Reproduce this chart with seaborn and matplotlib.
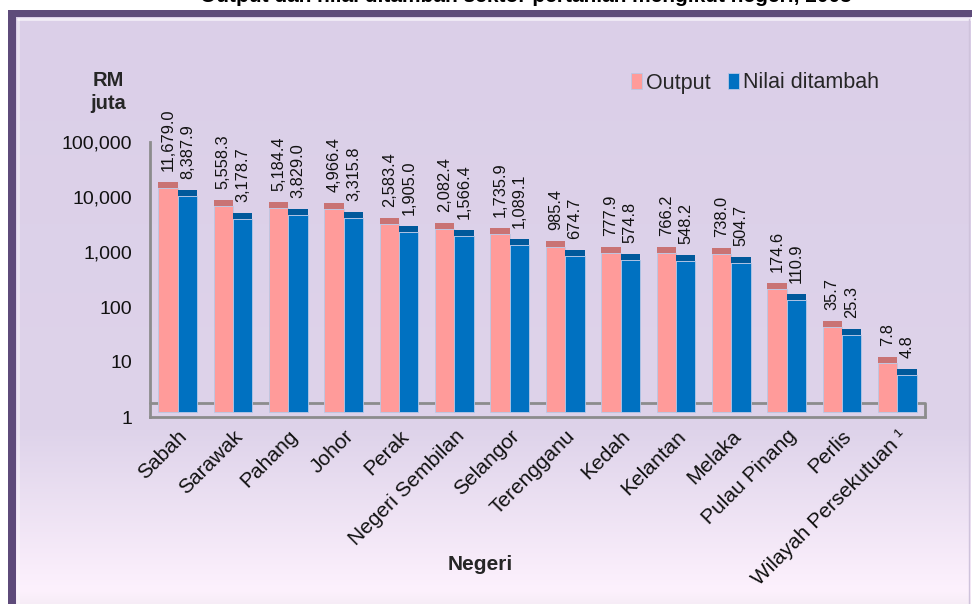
import pandas as pd
import matplotlib.pyplot as plt
import numpy as np
import seaborn as sns
from matplotlib.patches import Rectangle
from matplotlib.transforms import ScaledTranslation

# data (RM juta)
negeri = ['Sabah', 'Sarawak', 'Pahang', 'Johor', 'Perak', 'Negeri Sembilan',
          'Selangor', 'Terengganu', 'Kedah', 'Kelantan', 'Melaka', 'Pulau Pinang',
          'Perlis', 'Wilayah Persekutuan \u00b9']
output = [11679.0, 5558.3, 5184.4, 4966.4, 2583.4, 2082.4, 1735.9, 985.4,
          777.9, 766.2, 738.0, 174.6, 35.7, 7.8]
nilai_ditambah = [8387.9, 3178.7, 3829.0, 3315.8, 1905.0, 1566.4, 1089.1, 674.7,
                  574.8, 548.2, 504.7, 110.9, 25.3, 4.8]
series = ['Output', 'Nilai ditambah']
ytick_vals = [1, 10, 100, 1000, 10000, 100000]
ytick_labels = ['1', '10', '100', '1,000', '10,000', '100,000']

pink, blue = '#FF9B9A', '#0071C1'
pink_top, blue_top = '#C97374', '#00599B'

sns.set_theme(style='white')
plt.rcParams['font.family'] = ['Liberation Sans', 'DejaVu Sans']

W, H = 972, 604
fig = plt.figure(figsize=(W / 100, H / 100), dpi=100)
fig.patch.set_facecolor('white')

# background panel with purple frame and soft gradient
bg = fig.add_axes([0, 0, 1, 1], zorder=-5)
bg.set_xlim(0, W)
bg.set_ylim(H, 0)
bg.axis('off')
rows = np.arange(17, H)
r = np.interp(rows, [17, 430, 590, 604], [219, 222, 253, 246])
g = np.interp(rows, [17, 430, 590, 604], [207, 211, 241, 236])
b = np.interp(rows, [17, 430, 590, 604], [232, 234, 253, 246])
grad = np.stack([r, g, b], axis=1)[:, None, :] / 255
bg.imshow(grad, extent=[16, 970, H, 17], aspect='auto', interpolation='bilinear')
bg.add_patch(Rectangle((8, 10), W - 8, 7, color='#5E4B7A', lw=0))
bg.add_patch(Rectangle((8, 10), 8, H - 10, color='#5E4B7A', lw=0))
bg.plot([18, 970], [19, 19], color='white', lw=2, alpha=0.6)
bg.plot([18, 18], [19, H], color='white', lw=2, alpha=0.4)
bg.plot([969, 969], [19, H], color='#CFC3DC', lw=1)

# title (cut off at top of the picture, as in the original)
fig.text(200 / W, 1 - 2 / H, 'Output dan nilai ditambah sektor pertanian mengikut negeri, 2005',
         fontsize=15, fontweight='bold', va='baseline', ha='left', color='black')

df = pd.DataFrame({
    'Negeri': negeri * 2,
    'Siri': [series[0]] * len(negeri) + [series[1]] * len(negeri),
    'Nilai': output + nilai_ditambah,
})

ax = fig.add_axes([150 / W, 1 - 417 / H, 775 / W, 275 / H])
ax.set_facecolor('none')
ax.set_yscale('log')
sns.barplot(data=df, x='Negeri', y='Nilai', hue='Siri', palette=[pink, blue],
            width=0.7, gap=0, saturation=1, edgecolor='#B8C8E6', linewidth=0.6,
            ax=ax)
ax.set_ylim(1, 100000)
ax.set_xlim(-0.5, len(negeri) - 0.5)

# bars sit a few pixels up, like the 3D floor of the original
shift = ScaledTranslation(0, 5 / 100, fig.dpi_scale_trans)
cap_factor = 10 ** (6 / 55)
for container, tops in zip(ax.containers, [pink_top, blue_top]):
    for bar in container:
        top = bar.get_y() + bar.get_height()
        bar.set_y(1)
        bar.set_height(top - 1)
        bar.set_transform(ax.transData + shift)
        cap = Rectangle((bar.get_x(), top), bar.get_width(), top * (cap_factor - 1),
                        color=tops, lw=0, transform=ax.transData + shift)
        ax.add_patch(cap)
        ax.annotate(f'{top:,.1f}', xy=(bar.get_x() + bar.get_width() / 2, top),
                    xytext=(0, 22), textcoords='offset pixels', rotation=90,
                    ha='center', va='bottom', fontsize=11.8, color='#111111')

ax.set_yticks(ytick_vals, ytick_labels)
ax.yaxis.set_minor_locator(plt.NullLocator())
ax.set_xticks(range(len(negeri)), negeri, rotation=45, ha='right',
              rotation_mode='anchor')
ax.tick_params(axis='y', length=0, pad=13, labelsize=14, labelcolor='#111111')
ax.tick_params(axis='x', length=0, pad=7, labelsize=15, labelcolor='#111111')
ax.set_xlabel('')
ax.set_ylabel('')

for side in ['top', 'right']:
    ax.spines[side].set_visible(False)
for side in ['left', 'bottom']:
    ax.spines[side].set_color('#8C8C8C')
    ax.spines[side].set_linewidth(2)
ax.plot([0, 1, 1], [14 / 275, 14 / 275, 0], transform=ax.transAxes,
        color='#8C8C8C', lw=2, clip_on=False, zorder=0.5)

handles, labels = ax.get_legend_handles_labels()
ax.legend(handles, labels, ncol=2, frameon=False, loc='center left',
          bbox_to_anchor=(631 / W, 1 - 83 / H), bbox_transform=fig.transFigure,
          fontsize=15.5, handlelength=0.5, handleheight=0.7, handletextpad=0.2,
          columnspacing=0.8, borderpad=0, borderaxespad=0)

fig.text(108 / W, 1 - 92 / H, 'RM\njuta', ha='center', va='center',
         fontsize=14.5, fontweight='bold', linespacing=1.25)
fig.text(480 / W, 1 - 565 / H, 'Negeri', ha='center', va='center',
         fontsize=15, fontweight='bold')

fig.savefig('out.png', dpi=100)
